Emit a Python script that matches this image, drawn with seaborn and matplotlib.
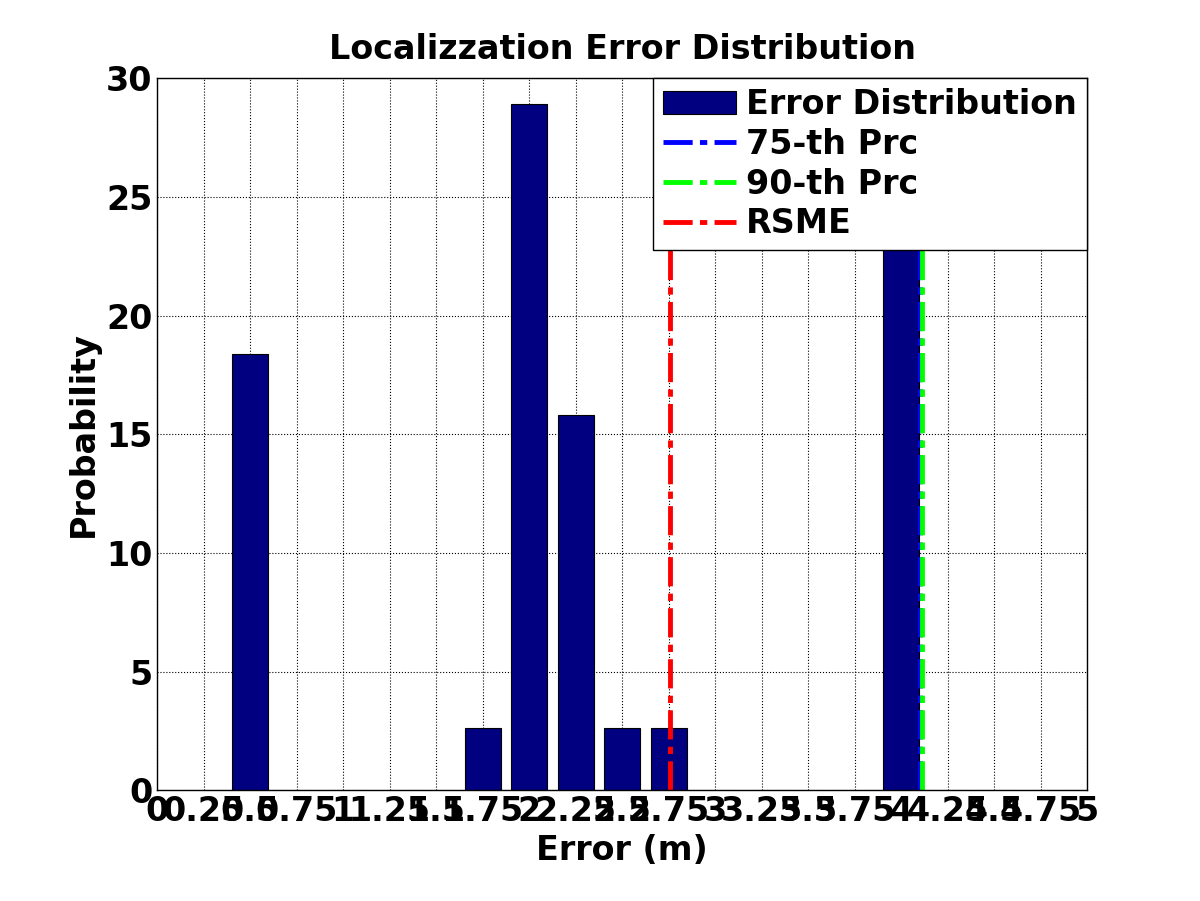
import numpy as np
import pandas as pd
import matplotlib
matplotlib.use("Agg")
import matplotlib.pyplot as plt
import seaborn as sns

# values
error_bins = [0.5, 1.75, 2.0, 2.25, 2.5, 2.75, 4.0]
probability = [18.4, 2.6, 28.9, 15.8, 2.6, 2.6, 29.1]
prc75 = 4.1
prc90 = 4.11
rsme = 2.755
xticks = np.arange(0, 5.01, 0.25)
xtick_labels = [f"{t:g}" for t in xticks]

sns.set_style("white")
plt.rcParams['font.family'] = ['DejaVu Sans']
plt.rcParams['font.weight'] = 'bold'
for k in ['text.color', 'axes.labelcolor', 'xtick.color', 'ytick.color']:
    plt.rcParams[k] = 'black'

fig = plt.figure(figsize=(12, 9.01), dpi=100)
ax = fig.add_axes([0.131, 0.123, 0.775, 0.79])

df = pd.DataFrame({"err": error_bins, "p": probability})
sns.barplot(data=df, x="err", y="p", native_scale=True, width=0.78,
            color="#000080", saturation=1, edgecolor="black", linewidth=0.8,
            label="Error Distribution", ax=ax)

dash = (0, (6, 1.5, 1.5, 1.5))
ax.axvline(prc75, color="blue", ls=dash, lw=3.5, label="75-th Prc")
ax.axvline(prc90, color="#00ff00", ls=dash, lw=3.5, label="90-th Prc")
ax.axvline(rsme, color="red", ls=dash, lw=3.5, label="RSME")

ax.set_xlim(0, 5)
ax.set_ylim(0, 30)
ax.set_xticks(xticks)
ax.set_xticklabels(xtick_labels)
ax.set_yticks(range(0, 31, 5))
ax.tick_params(labelsize=24, direction="in", length=6, colors="black")
for lab in ax.get_xticklabels() + ax.get_yticklabels():
    lab.set_fontweight("bold")
ax.grid(True, ls=":", color="black", lw=0.8)
for s in ax.spines.values():
    s.set_color("black")
    s.set_linewidth(1)

ax.set_xlabel("Error (m)", fontsize=24, fontweight="bold", color="black")
ax.set_ylabel("Probability", fontsize=24, fontweight="bold", color="black")
ax.set_title("Localizzation Error Distribution", fontsize=24, fontweight="bold",
             pad=14, color="black")

handles, labels = ax.get_legend_handles_labels()
order = [labels.index(n) for n in ["Error Distribution", "75-th Prc", "90-th Prc", "RSME"]]
leg = ax.legend([handles[i] for i in order], [labels[i] for i in order],
                loc="upper right", fontsize=24, frameon=True, fancybox=False,
                framealpha=1, edgecolor="black", borderaxespad=0.0,
                handlelength=2.2, handletextpad=0.3, labelspacing=0.2,
                borderpad=0.3)
leg.get_frame().set_linewidth(1)

fig.savefig("out.png", dpi=100)
